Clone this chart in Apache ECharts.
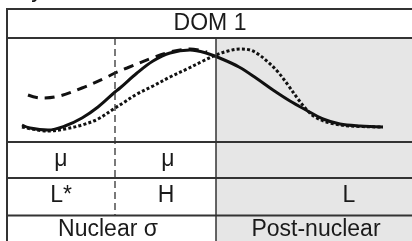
<!DOCTYPE html>
<html>
<head>
<meta charset="utf-8">
<script src="https://cdn.jsdelivr.net/npm/echarts@6/dist/echarts.min.js"></script>
<style>
html,body{margin:0;padding:0;background:#fff;}
#c{width:412px;height:241px;}
</style>
</head>
<body>
<div id="c"></div>
<script>
// Profile curves: x = position along cell-cycle axis, y = relative level
var solidX  = [15, 23, 41, 58, 75, 91, 108, 113, 130, 146, 163, 183, 199, 215, 232, 249, 266, 283, 299, 316, 333, 353, 376];
var solidY  = [17, 14, 12, 16, 24, 35, 50, 54, 69, 81, 89, 92, 89, 83, 75, 64, 52, 41, 32, 23, 18, 16, 15];
var dashedX = [21, 33, 48, 75, 98, 108, 120, 145, 163, 183, 200];
var dashedY = [47, 44, 45, 54, 64, 69, 74, 84, 90, 93, 90];
var dottedX = [15, 41, 58, 75, 91, 108, 116, 130, 146, 163, 180, 196, 209, 221, 233, 243, 251, 261, 271, 281, 291, 300, 308, 323, 343, 376];
var dottedY = [15, 11, 13, 17, 23, 34, 39, 48, 56, 65, 73, 81, 87, 91, 93, 92, 88, 80, 70, 57, 43, 32, 25, 19, 16, 15];

// Phase boundaries (same x units)
var nuclearSplit = 108;   // dashed divider
var postNuclearStart = 209; // solid divider / grey region

// Table texts
var titleText = 'DOM 1';
var row1Labels = ['\u03bc', '\u03bc', ''];
var row2Labels = ['L*', 'H', 'L'];
var row3Labels = ['Nuclear \u03c3', 'Post-nuclear'];

function pairs(xs, ys){ return xs.map(function(x,i){ return [x, ys[i]]; }); }

var chart = echarts.init(document.getElementById('c'), null, {renderer:'canvas'});
var FONT = '"Liberation Sans", Arial, sans-serif';
var LINE = '#333';
var INK = '#1a1a1a';

chart.setOption({
  animation:false,
  grid:{left:7, top:38, width:405, height:104},
  xAxis:{type:'value', min:0, max:405, show:false},
  yAxis:{type:'value', min:0, max:104, show:false},
  series:[
    {type:'line', data:pairs(dottedX, dottedY), smooth:0.35, symbol:'none', z:5,
     lineStyle:{color:'#111', width:3, type:[3,2.2]}},
    {type:'line', data:pairs(dashedX, dashedY), smooth:0.35, symbol:'none', z:6,
     lineStyle:{color:'#111', width:3, type:[10,7]}},
    {type:'line', data:pairs(solidX, solidY), smooth:0.35, symbol:'none', z:7,
     lineStyle:{color:'#111', width:3}}
  ]
});

var xd = chart.convertToPixel({gridIndex:0}, [nuclearSplit, 0])[0];
var xs = chart.convertToPixel({gridIndex:0}, [postNuclearStart, 0])[0];
var L = 7, R = 412, yTop = 9, yT = 38, y1 = 142, y2 = 178, y3 = 215.5, B = 241;

function hline(y){ return {type:'line', shape:{x1:L, y1:y, x2:R, y2:y}, style:{stroke:LINE, lineWidth:2}, z:10}; }
function txt(x, y, s){ return {type:'text', x:x, y:y, style:{text:s, font:'23px ' + FONT, fill:INK, align:'center', verticalAlign:'middle'}, z:10}; }

var g = [
  {type:'rect', shape:{x:xs, y:yT, width:R - xs, height:B - yT}, style:{fill:'#e6e6e6'}, z:0},
  hline(yTop), hline(yT), hline(y1), hline(y2), hline(y3),
  {type:'line', shape:{x1:L, y1:yTop - 1, x2:L, y2:B}, style:{stroke:LINE, lineWidth:2}, z:10},
  {type:'line', shape:{x1:xs, y1:yT, x2:xs, y2:B}, style:{stroke:LINE, lineWidth:1.5}, z:10},
  {type:'line', shape:{x1:xd, y1:yT, x2:xd, y2:y3}, style:{stroke:LINE, lineWidth:1.3, lineDash:[7,4]}, z:10},
  txt(210, 24, titleText),
  txt(61, 160, row1Labels[0]), txt(168, 160, row1Labels[1]),
  txt(61, 196, row2Labels[0]), txt(166, 196, row2Labels[1]), txt(349, 196, row2Labels[2]),
  txt(108, 230, row3Labels[0]), txt(316, 230, row3Labels[1]),
  {type:'text', x:37, y:-9, style:{text:'y', font:'23px ' + FONT, fill:INK, align:'center', verticalAlign:'middle'}, z:10}
];
chart.setOption({graphic:{elements:g}});
</script>
</body>
</html>
